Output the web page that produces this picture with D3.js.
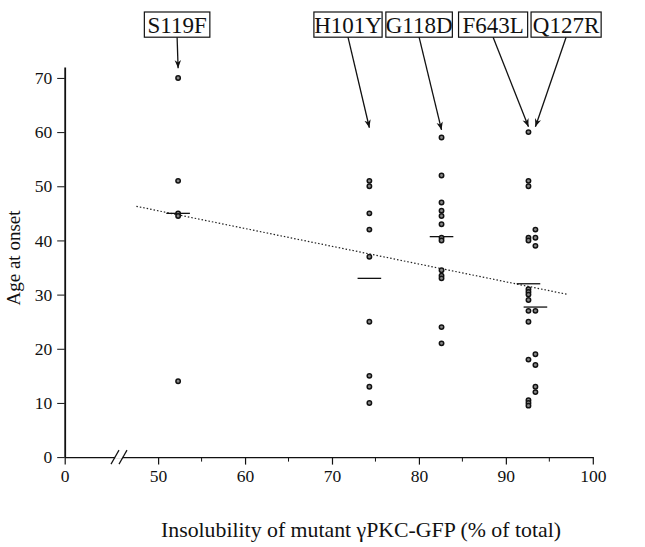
<!DOCTYPE html>
<meta charset="utf-8">
<head>
  <title>Age at onset vs insolubility</title>
</head>
<style>
body { margin: 0; background: white; }
text { font-family: "Liberation Serif", "Times New Roman", serif; fill: #111; }
.axis path, .axis line { stroke: #111; }
.axis text { font-size: 17.5px; font-family: "Liberation Serif", serif; fill: #111; }
</style>
<body>
<svg width="645" height="547"></svg>
<script src="https://cdnjs.cloudflare.com/ajax/libs/d3/7.8.5/d3.min.js"></script>
<script>
// values
var genes = ["S119F", "H101Y", "G118D", "F643L", "Q127R"];
var insolubility = [52.3, 74.3, 82.6, 92.6, 93.4];
var onsetS119F = [70, 51, 45, 44.5, 14];
var onsetH101Y = [51, 50, 45, 42, 37, 25, 15, 13, 10];
var onsetG118D = [59, 52, 47, 45.5, 44.5, 43, 40.5, 40, 34.5, 33.5, 33, 24, 21];
var onsetF643L = [60, 51, 50, 40.5, 40, 31, 30.5, 30, 29, 27, 25, 18, 10.5, 10, 9.5];
var onsetQ127R = [42, 40.5, 39, 27, 19, 17, 13, 12];
var meanOnset = [45, 33, 40.7, 32, 27.7];
var arrowTipAge = [71.8, 60.8, 60.4, 61, 61];
var trendX = [47.5, 97.2];
var trendY = [46.3, 30.0];
var xMajorTicks = [0, 50, 60, 70, 80, 90, 100];
var xMinorTicks = [55, 65, 75, 85, 95];
var yTicks = [0, 10, 20, 30, 40, 50, 60, 70];

var onsets = [onsetS119F, onsetH101Y, onsetG118D, onsetF643L, onsetQ127R];

// label boxes (layout only)
var boxes = [
  {cx: 177.1, w: 65.5},
  {cx: 348, w: 68.2},
  {cx: 419.1, w: 66.5},
  {cx: 493.1, w: 69.1},
  {cx: 566.1, w: 70.1}
];

var svg = d3.select('svg');

// broken x axis: 0 .. 45.5 squeezed, then linear
var xBreak = 45.5;
var x = d3.scaleLinear().domain([0, xBreak, 100]).range([64.7, 119, 592.8]);
var y = d3.scaleLinear().domain([0, 72]).range([457.1, 67.1]);

// y axis
svg.append('g')
  .attr('class', 'axis')
  .attr('transform', 'translate(' + x(0) + ',0)')
  .call(d3.axisLeft(y).tickValues(yTicks).tickSize(7.5).tickSizeOuter(0).tickPadding(5))
  .call(function(g) {
    g.select('.domain').attr('stroke-width', 1.8);
    g.selectAll('.tick line').attr('stroke-width', 1);
  });

// x axis
var xAxis = svg.append('g')
  .attr('class', 'axis')
  .attr('transform', 'translate(0,' + y(0) + ')')
  .call(d3.axisBottom(x).tickValues(xMajorTicks).tickSize(7.5).tickSizeOuter(0).tickPadding(5))
  .call(function(g) {
    g.select('.domain').attr('stroke-width', 1.2).attr('stroke', '#333');
    g.selectAll('.tick line').attr('stroke-width', 1.2);
  });

xAxis.selectAll('.minor')
  .data(xMinorTicks)
  .enter()
  .append('line')
  .attr('class', 'minor')
  .attr('x1', function(d) { return x(d); })
  .attr('x2', function(d) { return x(d); })
  .attr('y1', 0)
  .attr('y2', 4.5)
  .attr('stroke', '#111');

// axis break marks
var bx = x(xBreak);
svg.append('line')
  .attr('x1', bx - 4).attr('x2', bx + 4)
  .attr('y1', y(0)).attr('y2', y(0))
  .attr('stroke', 'white').attr('stroke-width', 3);
[-4, 4].forEach(function(off) {
  svg.append('line')
    .attr('x1', bx + off - 4).attr('y1', y(0) + 7)
    .attr('x2', bx + off + 4).attr('y2', y(0) - 7)
    .attr('stroke', '#111').attr('stroke-width', 1.2);
});

// axis titles
svg.append('text')
  .attr('x', 361)
  .attr('y', 537)
  .attr('text-anchor', 'middle')
  .attr('font-size', '21.8px')
  .text('Insolubility of mutant \u03b3PKC-GFP (% of total)');

svg.append('text')
  .attr('transform', 'translate(20.4,258) rotate(-90)')
  .attr('text-anchor', 'middle')
  .attr('font-size', '19px')
  .text('Age at onset');

// trend line
svg.append('line')
  .attr('x1', x(trendX[0])).attr('y1', y(trendY[0]))
  .attr('x2', x(trendX[1])).attr('y2', y(trendY[1]))
  .attr('stroke', '#222')
  .attr('stroke-width', 1.2)
  .attr('stroke-dasharray', '1.5,2');

// mean marks
svg.selectAll('.mean')
  .data(meanOnset)
  .enter()
  .append('line')
  .attr('class', 'mean')
  .attr('x1', function(d, i) { return x(insolubility[i]) - 11.8; })
  .attr('x2', function(d, i) { return x(insolubility[i]) + 11.8; })
  .attr('y1', function(d) { return y(d); })
  .attr('y2', function(d) { return y(d); })
  .attr('stroke', '#111')
  .attr('stroke-width', 1.3);

// points
var points = [];
onsets.forEach(function(arr, i) {
  arr.forEach(function(v) { points.push({x: insolubility[i], age: v}); });
});

svg.selectAll('.pt')
  .data(points)
  .enter()
  .append('circle')
  .attr('class', 'pt')
  .attr('cx', function(d) { return x(d.x); })
  .attr('cy', function(d) { return y(d.age); })
  .attr('r', 2.2)
  .attr('fill', '#888')
  .attr('stroke', '#111')
  .attr('stroke-width', 1.5);

// arrowhead
svg.append('defs').append('marker')
  .attr('id', 'arr')
  .attr('viewBox', '0 0 10 10')
  .attr('refX', 10).attr('refY', 5)
  .attr('markerWidth', 8).attr('markerHeight', 8)
  .attr('markerUnits', 'userSpaceOnUse')
  .attr('orient', 'auto')
  .append('path')
  .attr('d', 'M0,1 L10,5 L0,9 L3,5 Z')
  .attr('fill', '#111');

var boxTop = 12, boxH = 25.2;

var labels = svg.selectAll('.lab')
  .data(genes)
  .enter()
  .append('g')
  .attr('class', 'lab');

labels.append('line')
  .attr('x1', function(d, i) { return boxes[i].cx; })
  .attr('y1', boxTop + boxH)
  .attr('x2', function(d, i) { return x(insolubility[i]); })
  .attr('y2', function(d, i) { return y(arrowTipAge[i]); })
  .attr('stroke', '#111')
  .attr('stroke-width', 1.3)
  .attr('marker-end', 'url(#arr)');

labels.append('rect')
  .attr('x', function(d, i) { return boxes[i].cx - boxes[i].w / 2; })
  .attr('y', boxTop)
  .attr('width', function(d, i) { return boxes[i].w; })
  .attr('height', boxH)
  .attr('fill', 'white')
  .attr('stroke', '#111')
  .attr('stroke-width', 1.2);

labels.append('text')
  .attr('x', function(d, i) { return boxes[i].cx; })
  .attr('y', boxTop + boxH - 4.5)
  .attr('text-anchor', 'middle')
  .attr('font-size', '23px')
  .text(function(d) { return d; });
</script>
</body>
</html>
